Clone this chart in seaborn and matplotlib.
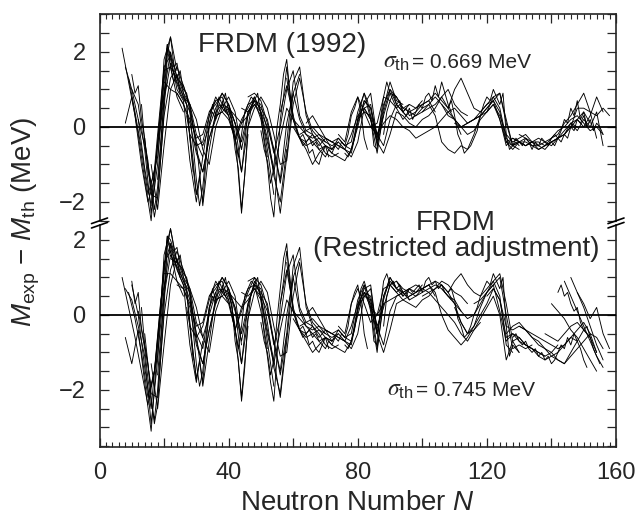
import numpy as np
import pandas as pd
import matplotlib
matplotlib.use("Agg")
import matplotlib.pyplot as plt
from matplotlib.lines import Line2D
from matplotlib.ticker import MultipleLocator, FuncFormatter
import seaborn as sns

# ---------------- data: M_exp - M_th (MeV) along isotopic chains ----------------
# coarse chains are sampled every 2nd N, fine chains at every N

# FRDM (1992)
start_1992_light = [7, 8, 8, 9, 10, 12, 14, 16, 18]
dev_1992_light = [
    [2.1, 1.2, 0.3, -1.0, -2.0, -1.4, 0.5, 1.2],
    [1.6, 1.0, 0.6, -0.6, -2.3, -1.0, 1.8, 2.4, 1.5],
    [0.1, 0.8, -0.2, -1.4, -2.5, -0.4, 1.5, 1.6, 0.8, 0.4],
    [1.3, 0.4, -0.6, -1.8, -1.2, 0.2, 2.2, 1.4, 0.9, 0.6, -1.2],
    [1.0, 0.2, -1.1, -2.1, -0.2, 1.6, 1.9, 1.0, 0.7, -0.9, -2.0, -0.8],
    [0.2, -0.5, -1.5, -0.8, 0.9, 2.0, 1.3, 0.8, 0.4, -0.4, -0.8, 0.3, 0.7],
    [-0.3, -1.8, -1.9, 0.3, 1.3, 1.6, 1.1, 0.5, -0.4, -2.1, -0.6, 0.4, 0.6, 0.3],
    [-1.0, -2.2, -0.5, 1.0, 1.4, 0.9, 0.6, 0.2, -0.6, -1.0, 0.0, 0.5, 0.8, 0.4, -0.6],
    [-1.4, 0.7, 1.7, 1.2, 0.8, 0.6, -0.6, -1.2, -0.3, 0.3, 0.4, 0.6, -0.2, -2.3, -0.2],
]
start_1992_mid = [20, 22, 24, 28, 34, 36, 40, 44, 46]
dev_1992_mid = [
    [1.2, 1.0, 0.9, 0.6, 0.2, -0.3, -0.2, 0.4, 0.7, 0.8, 0.3, -0.4, 0.1, 0.6, 0.7, 0.2, -0.8],
    [1.6, 1.3, 1.1, 0.6, -0.2, -0.5, 0.0, 0.5, 0.9, 0.6, 0.1, -0.6, 0.3, 0.8, 0.4, -0.6, -1.8],
    [0.9, 0.6, 0.1, -0.7, -1.2, -0.3, 0.2, 0.6, 0.5, 0.1, -1.2, 0.4, 0.7, 0.6, -0.1, -1.3, -2.0, -0.6],
    [-0.2, -0.5, -0.4, 0.3, 0.8, 0.5, 0.3, -0.3, 0.2, 0.5, 0.8, 0.4, -0.3, -1.1, -2.3, -0.8, 0.9, 1.4],
    [0.4, 0.6, 0.9, 0.6, 0.1, -0.4, 0.4, 0.7, 0.5, 0.2, -0.6, -1.5, -0.4, 1.2, 1.6, 0.3, -0.2],
    [0.3, 0.4, 0.2, -0.3, -1.2, 0.0, 0.5, 0.8, 0.5, -0.2, -1.0, -0.9, 0.6, 1.3, 0.4, -0.1, -0.3, -0.4],
    [0.5, 0.3, 0.1, 0.3, 0.6, 0.4, 0.0, -0.6, -1.4, 0.1, 0.9, 0.2, -0.2, -0.4, -0.3, -0.5, -0.6],
    [0.5, 0.4, 0.6, 0.3, -0.4, -1.2, -0.3, 0.5, 0.2, -0.3, -0.4, -0.2, -0.4, -0.7, -0.8, -0.7],
    [0.8, 0.9, 0.7, 0.1, -0.7, 0.0, 1.0, 1.5, 0.3, -0.1, -0.2, -0.5, -0.3, -0.6, -0.4],
]
start_1992_heavy = [56, 58, 60, 62, 64, 70, 74, 80, 82, 84, 92, 96, 100, 106, 110, 116,
                    120, 126, 130, 138, 142, 146]
dev_1992_heavy = [
    [0.4, 1.1, 0.3, -0.3, -0.5, -0.4, -0.6, -0.5, -0.7, -0.8, -0.9, -0.6, 0.2, 0.6, 0.9, -0.3],
    [1.3, 0.2, 0.0, -0.2, -0.3, -0.2, -0.4, -0.5, -0.4, -0.6, -0.7, 0.1, 0.7, 0.5, -0.5, 0.3],
    [0.0, -0.3, -0.6, -1.0, -0.7, -0.5, -0.6, -0.3, -0.5, -0.4, 0.4, 0.9, 0.2, -0.7, 0.4, 1.0, 0.8],
    [-0.2, -0.1, 0.0, -0.2, -0.3, -0.4, -0.5, -0.6, -0.8, -0.4, 0.5, 0.6, -0.4, 0.5, 1.2, 0.7, 0.6],
    [0.1, 0.3, 0.0, -0.3, -0.4, -0.3, -0.5, -0.6, 0.0, 0.7, 0.5, -0.2, 0.3, 0.9, 0.8, 0.5, 0.6],
    [-0.3, -0.4, -0.5, -0.6, -0.2, 0.3, 0.5, 0.2, -0.3, 0.6, 1.0, 0.6, 0.4, 0.6, 0.5, 0.7],
    [-0.2, -0.4, 0.4, 0.8, 0.4, 0.0, 0.1, 0.8, 0.7, 0.5, 0.2, 0.4, 0.5, 0.6, 0.7, 0.4],
    [0.2, 0.4, 0.3, -0.2, -0.5, 0.2, 0.6, 0.4, 0.2, 0.3, 0.4, 0.6, 0.8, 0.6, 0.3, 0.2, -0.2],
    [0.5, 0.2, -0.4, -0.7, -0.2, 0.4, 0.3, 0.1, 0.0, 0.2, 0.3, 0.5, 0.8, 1.0, 0.6, 0.4, 0.3],
    [0.0, -0.2, 0.1, 0.3, 0.2, 0.0, -0.1, -0.3, -0.2, -0.1, 0.0, 0.2, 0.4, 0.5, 0.3, 0.1, 0.2, 0.3],
    [0.8, 0.5, 0.4, 0.3, 0.5, 0.6, 0.3, -0.4, -0.6, -0.7, -0.5, -0.6, -0.2, 0.3, 0.5, 0.7, 0.4, -0.4, -0.5],
    [0.3, 0.4, 0.6, 0.7, 0.9, 0.7, 0.5, 1.0, 1.3, 0.9, 0.5, 0.4, 0.6, 0.8, 0.9, 0.2, -0.5, -0.6],
    [0.4, 0.5, 0.6, 0.8, 0.5, 0.2, 0.0, 0.1, 0.2, 0.4, 0.6, 0.7, 0.9, 0.1, -0.5, -0.4, -0.5, -0.4],
    [0.6, 0.4, 0.2, 0.0, -0.2, -0.1, 0.2, 0.4, 0.6, 0.2, -0.4, -0.6, -0.4, -0.5, -0.4, -0.6, -0.5],
    [0.1, 0.0, 0.1, 0.2, 0.3, 0.4, 0.8, 0.5, -0.3, -0.5, -0.4, -0.4, -0.5, -0.6, -0.5, -0.4, -0.3],
    [0.2, 0.3, 0.5, 0.7, 0.2, -0.5, -0.3, -0.4, -0.3, -0.5, -0.5, -0.6, -0.4, -0.3, -0.1, 0.1, 0.0],
    [0.4, 0.6, 0.3, -0.2, -0.4, -0.3, -0.2, -0.4, -0.5, -0.4, -0.5, -0.3, -0.2, 0.0, 0.2, 0.4, 0.1],
    [-0.4, -0.3, -0.4, -0.5, -0.4, -0.4, -0.5, -0.3, -0.2, 0.1, 0.3, 0.6, 0.9, 0.4, -0.3],
    [-0.2, -0.3, -0.4, -0.3, -0.4, -0.3, -0.1, 0.0, 0.2, 0.3, 0.1, -0.1, 0.0, -0.2],
    [-0.5, -0.4, -0.3, -0.2, 0.0, 0.5, 0.5, 0.4, 0.3, 0.5, 0.3],
    [-0.3, -0.2, 0.1, 0.2, 0.0, 0.3, 0.8, 0.4],
    [0.1, -0.1, 0.2, 0.0, 0.4, -0.5],
]
start_1992_fine = [10, 13, 19, 27, 38, 50, 62, 76, 88, 108, 128, 140]
dev_1992_fine = [
    [1.4, 0.9, 1.1, 0.2, -0.3, -1.2, -1.5, -2.2, -1.6, -0.5, 0.8, 2.1, 1.6, 1.2, 1.4, 0.9],
    [0.6, -0.4, -0.9, -1.7, -2.4, -1.9, -0.8, 0.4, 1.9, 2.4, 1.7, 1.3, 1.5, 0.9, 0.6, -0.3, -1.1, -1.8],
    [0.2, 1.4, 2.2, 1.9, 1.6, 1.7, 1.2, 1.0, 0.9, 0.4, -0.5, -1.4, -2.1, -1.6, -0.7, 0.1, 0.4, 0.2, 0.6, 0.5],
    [0.3, -0.2, -0.9, -1.8, -1.3, -2.0, -0.9, 0.0, 0.6, 0.3, 0.8, 0.6, 0.9, 0.4, 0.2, -0.6, -1.1, -2.2,
     -1.3, 0.0, 0.5, 0.7],
    [0.7, 0.4, 0.5, 0.1, -0.3, -0.8, -0.2, 0.4, 0.6, 0.8, 0.7, 0.9, 0.3, -0.4, -1.0, -1.9, -2.4, -1.2,
     0.2, 0.8, 1.6, 0.9, 0.3],
    [-0.1, -0.6, -0.9, -1.5, -1.1, 0.0, 0.6, 1.4, 1.8, 0.9, 0.2, -0.1, -0.3, -0.2, -0.4, -0.3, -0.5,
     -0.4, -0.6, -0.7, -0.5, -0.8],
    [-0.3, -0.5, -0.4, -0.7, -0.6, -0.9, -1.0, -0.7, -0.8, -0.6, -0.7, -0.5, -0.6, -0.4, -0.5, -0.2,
     0.3, 0.5, 0.8, 0.4, -0.3, -0.6],
    [-0.7, -0.8, -0.6, -0.3, 0.2, 0.6, 0.9, 0.7, 0.3, -0.5, -0.6, 0.2, 0.8, 1.2, 0.9, 0.7, 0.5, 0.6,
     0.4, 0.5, 0.3],
    [-0.2, 0.4, 0.7, 0.9, 0.6, 0.7, 0.4, 0.3, 0.5, 0.2, 0.4, 0.6, 0.5, 0.8, 0.9, 0.7, 1.1, 0.8, 1.2,
     0.9, 0.6, 0.4],
    [0.5, 0.7, 0.3, -0.2, -0.4, -0.7, -0.6, -0.5, -0.3, -0.1, 0.3, 0.6, 0.8, 0.7, 1.0, 0.8, 0.6, 0.9,
     -0.2, -0.6, -0.5, -0.4, -0.5],
    [-0.5, -0.3, -0.4, -0.5, -0.3, -0.4, -0.6, -0.4, -0.5, -0.3, -0.4, -0.5, -0.3, -0.2, -0.3, -0.1,
     0.2, 0.1, 0.5, 0.3, 0.7, 0.2, 0.4, 0.0],
    [-0.4, -0.5, -0.3, -0.4, -0.2, -0.3, 0.0, -0.1, 0.2, 0.1, 0.3, 0.0, 0.2, -0.1, 0.1, 0.0, -0.2],
]

# FRDM (restricted adjustment)
start_restr_light = [7, 8, 8, 9, 10, 12, 14, 16, 18]
dev_restr_light = [
    [1.0, 0.2, -0.6, -1.5, -2.4, -1.5, 0.4, 1.1],
    [0.7, 0.4, -0.3, -1.1, -2.9, -1.2, 1.6, 2.3, 1.4],
    [-0.6, -1.3, -0.4, -1.8, -3.1, -0.8, 1.4, 1.7, 0.9, 0.5],
    [0.6, -0.1, -1.0, -2.2, -1.5, 0.1, 2.1, 1.5, 1.0, 0.6, -1.2],
    [0.8, 0.0, -1.4, -2.5, -0.6, 1.3, 1.9, 1.2, 0.8, -0.8, -1.8, -0.7],
    [0.1, -0.8, -1.9, -1.1, 0.7, 1.9, 1.4, 0.9, 0.4, -0.5, -0.9, 0.2, 0.6],
    [-0.5, -2.1, -2.2, 0.0, 1.2, 1.7, 1.2, 0.6, -0.5, -1.9, -0.7, 0.5, 0.7, 0.3],
    [-1.3, -2.5, -0.8, 0.8, 1.5, 1.0, 0.7, 0.2, -0.6, -1.0, 0.1, 0.6, 0.9, 0.5, -0.8],
    [-1.6, 0.5, 1.6, 1.3, 0.9, 0.6, -0.7, -1.3, -0.4, 0.4, 0.5, 0.7, -0.3, -2.2, -0.3],
]
start_restr_mid = [20, 22, 24, 28, 34, 36, 40, 44, 46]
dev_restr_mid = [
    [1.1, 1.1, 0.9, 0.7, 0.3, -0.3, -0.2, 0.5, 0.8, 0.9, 0.4, -0.4, 0.2, 0.7, 0.8, 0.1, -0.9],
    [1.5, 1.4, 1.2, 0.7, -0.2, -0.6, 0.0, 0.6, 1.0, 0.7, 0.1, -0.7, 0.2, 0.9, 0.5, -0.7, -1.9],
    [0.8, 0.7, 0.2, -0.8, -1.3, -0.4, 0.3, 0.7, 0.6, 0.2, -1.3, 0.3, 0.8, 0.7, -0.2, -1.4, -2.1, -0.5],
    [-0.3, -0.6, -0.3, 0.4, 0.9, 0.6, 0.4, -0.4, 0.1, 0.6, 1.0, 0.5, -0.4, -1.2, -2.2, -0.7, 1.0, 1.5],
    [0.5, 0.7, 1.0, 0.7, 0.2, -0.5, 0.3, 0.8, 0.6, 0.3, -0.7, -1.6, -0.5, 1.3, 1.8, 0.2, -0.3],
    [0.4, 0.5, 0.3, -0.4, -1.3, -0.1, 0.6, 0.9, 0.6, -0.3, -1.1, -1.0, 0.5, 1.4, 0.3, -0.2, -0.4, -0.5],
    [0.6, 0.4, 0.2, 0.4, 0.7, 0.5, 0.1, -0.7, -1.5, 0.0, 1.0, 0.1, -0.3, -0.5, -0.4, -0.6, -0.7],
    [0.6, 0.5, 0.7, 0.4, -0.5, -1.3, -0.4, 0.4, 0.1, -0.4, -0.5, -0.3, -0.5, -0.8, -0.9, -0.8],
    [0.9, 1.0, 0.8, 0.2, -0.8, -0.1, 1.1, 1.6, 0.2, -0.2, -0.3, -0.6, -0.4, -0.7, -0.5],
]
start_restr_heavy = [56, 58, 60, 62, 64, 70, 74, 80, 82, 84, 92, 96, 100, 106, 110, 116,
                     120, 126, 130, 144, 146, 140, 148, 138]
dev_restr_heavy = [
    [0.3, 1.2, 0.2, -0.4, -0.6, -0.5, -0.7, -0.6, -0.8, -0.9, -1.0, -0.7, 0.2, 0.7, 0.8, -0.5],
    [1.4, 0.1, -0.1, -0.3, -0.4, -0.3, -0.5, -0.6, -0.5, -0.7, -0.8, 0.1, 0.8, 0.4, -0.9, 0.3],
    [-0.1, -0.4, -0.7, -1.0, -0.8, -0.6, -0.7, -0.4, -0.6, -0.5, 0.4, 0.8, 0.1, -1.0, 0.5, 1.0, 0.7],
    [-0.3, -0.2, -0.1, -0.3, -0.4, -0.5, -0.6, -0.7, -0.9, -0.5, 0.5, 0.7, -0.5, 0.4, 1.0, 0.7, 0.6],
    [0.0, 0.2, -0.1, -0.4, -0.5, -0.4, -0.6, -0.7, 0.0, 0.6, 0.5, -0.3, 0.2, 0.8, 0.9, 0.6, 0.7],
    [-0.4, -0.5, -0.6, -0.7, -0.3, 0.3, 0.6, 0.2, -0.5, 0.5, 0.9, 0.7, 0.5, 0.7, 0.6, 0.8],
    [-0.3, -0.5, 0.3, 0.7, 0.3, -0.2, 0.0, 0.7, 0.8, 0.6, 0.4, 0.5, 0.6, 0.7, 0.8, 0.5],
    [0.2, 0.5, 0.4, -0.3, -0.8, 0.1, 0.5, 0.6, 0.4, 0.5, 0.6, 0.7, 0.8, 0.7, 0.5, 0.4, 0.1],
    [0.6, 0.3, -0.5, -1.0, -0.4, 0.3, 0.4, 0.3, 0.2, 0.4, 0.5, 0.7, 0.9, 0.8, 0.6, 0.5, 0.3],
    [0.2, 0.0, 0.3, 0.4, 0.5, 0.6, 0.7, 0.8, 0.7, 0.6, 0.4, 0.2, 0.0, -0.2, -0.5, -0.7, -0.4, -0.2],
    [0.9, 0.7, 0.6, 0.5, 0.7, 0.8, 0.6, 0.0, -0.4, -0.6, -0.8, -0.6, -0.3, 0.2, 0.6, 0.9, 0.5, -0.8, -1.0],
    [0.5, 0.6, 0.7, 0.8, 0.9, 0.8, 0.6, 0.9, 1.1, 0.8, 0.6, 0.5, 0.7, 0.9, 1.1, 0.3, -0.7, -1.0],
    [0.5, 0.6, 0.7, 0.8, 0.6, 0.3, 0.1, -0.1, 0.0, 0.3, 0.6, 0.8, 1.0, 0.0, -0.9, -0.8, -0.9, -0.8],
    [0.7, 0.5, 0.3, -0.2, -0.5, -0.4, -0.1, 0.2, 0.5, 0.0, -1.2, -0.7, -0.6, -0.8, -0.9, -1.0, -1.1],
    [0.2, -0.2, -0.5, -0.3, 0.0, 0.3, 0.7, 0.4, -0.6, -0.5, -0.6, -0.8, -0.9, -1.0, -1.1, -1.0, -0.8],
    [0.3, 0.4, 0.6, 0.8, 0.1, -0.7, -0.5, -0.7, -0.8, -0.9, -1.1, -1.2, -1.1, -1.0, -0.8, -0.6, -0.7],
    [0.5, 0.7, 0.4, -0.3, -0.4, -0.3, -0.4, -0.6, -0.8, -0.9, -1.0, -1.2, -1.3, -1.0, -0.7, -0.4, -0.6],
    [-0.5, -0.3, -0.2, -0.4, -0.5, -0.6, -0.7, -0.8, -0.9, -0.8, -0.6, -0.4, -0.2, -0.5, -1.0],
    [-0.3, -0.4, -0.6, -0.7, -0.9, -1.1, -1.2, -1.3, -1.1, -0.9, -0.7, -0.5, -0.6, -0.9],
    [0.9, 0.5, 0.1, -0.3, -0.7, -1.1, -1.4],
    [1.0, 0.6, 0.2, -0.3, -0.8, -1.2],
    [0.3, 0.1, -0.1, -0.4, -0.6, -0.9, -1.2, -1.5],
    [0.6, 0.3, -0.1, 0.2, -0.5, -0.9],
    [-0.5, -0.6, -0.7, -0.5, -0.3, -0.2, -0.4, -0.6, -1.0],
]
start_restr_fine = [10, 13, 19, 27, 38, 50, 62, 76, 88, 108, 128, 142]
dev_restr_fine = [
    [0.9, 0.3, 0.6, -0.4, -0.9, -1.7, -2.3, -2.8, -2.0, -0.8, 0.6, 2.0, 1.7, 1.3, 1.5, 1.0],
    [0.2, -0.8, -1.3, -2.2, -2.9, -2.4, -1.1, 0.2, 1.8, 2.3, 1.8, 1.4, 1.6, 1.0, 0.7, -0.2, -1.0, -1.7],
    [0.0, 1.2, 2.1, 2.0, 1.7, 1.8, 1.3, 1.1, 1.0, 0.5, -0.4, -1.3, -1.9, -1.5, -0.6, 0.2, 0.5, 0.3, 0.7, 0.6],
    [0.2, -0.3, -1.0, -1.7, -1.2, -1.8, -0.8, 0.1, 0.7, 0.4, 0.9, 0.7, 1.0, 0.5, 0.3, -0.7, -1.2, -2.3,
     -1.4, -0.1, 0.6, 0.8],
    [0.8, 0.5, 0.6, 0.2, -0.4, -0.9, -0.3, 0.5, 0.7, 0.9, 0.8, 1.0, 0.4, -0.5, -1.1, -1.8, -2.3, -1.1,
     0.3, 0.9, 1.7, 1.0, 0.2],
    [-0.2, -0.7, -1.0, -1.6, -1.2, -0.1, 0.7, 1.5, 1.9, 0.8, 0.1, -0.2, -0.4, -0.3, -0.5, -0.4, -0.6,
     -0.5, -0.7, -0.8, -0.6, -0.9],
    [-0.4, -0.6, -0.5, -0.8, -0.7, -0.9, -1.0, -0.8, -0.9, -0.7, -0.8, -0.6, -0.7, -0.5, -0.6, -0.3,
     0.3, 0.6, 0.8, 0.3, -0.5, -0.9],
    [-0.8, -0.9, -0.7, -0.4, 0.2, 0.7, 0.9, 0.6, 0.2, -0.7, -0.8, 0.2, 0.9, 1.1, 0.8, 0.7, 0.6, 0.7,
     0.5, 0.6, 0.4],
    [-0.3, 0.5, 0.8, 0.9, 0.7, 0.8, 0.6, 0.5, 0.7, 0.6, 0.7, 0.8, 0.6, 0.9, 1.0, 0.8, 0.9, 0.7, 0.8,
     0.6, 0.5, 0.4],
    [0.6, 0.7, 0.4, -0.1, -0.3, -0.6, -0.5, -0.3, 0.0, 0.2, 0.5, 0.7, 0.9, 0.8, 1.1, 0.9, 0.7, 1.0,
     -0.3, -1.1, -0.8, -0.9, -1.0],
    [-0.6, -0.5, -0.7, -0.8, -0.7, -0.9, -1.0, -0.9, -1.1, -1.0, -1.2, -1.1, -1.3, -1.2, -1.0, -0.8,
     -0.9, -0.6, -0.8, -0.5, -0.7, -0.9, -1.2, -1.4],
    [0.6, 0.8, 0.5, 0.6, 0.3, 0.1, 0.2, -0.2, -0.4, -0.3, -0.6, -0.9, -1.1, -1.3],
]

x_tick_labels = {0: "0", 40: "40", 80: "80", 120: "120", 160: "160"}
y_tick_labels = {2.0: "2", 0.0: "0", -2.0: "\u22122"}
title_1992 = "FRDM (1992)"
title_restr = "FRDM\n(Restricted adjustment)"
sigma_sym = r"$\sigma_{\mathregular{th}}$"
sigma_1992 = "= 0.669 MeV"
sigma_restr = "= 0.745 MeV"


def chains_to_frame(starts, devs, tag, step):
    rows = []
    for k, (n0, vals) in enumerate(zip(starts, devs)):
        for i, v in enumerate(vals):
            rows.append({"chain": f"{tag}{k}", "N": n0 + step * i, "dM": v})
    return pd.DataFrame(rows)


df_1992 = pd.concat([
    chains_to_frame(start_1992_light, dev_1992_light, "l", 2),
    chains_to_frame(start_1992_mid, dev_1992_mid, "m", 2),
    chains_to_frame(start_1992_heavy, dev_1992_heavy, "h", 2),
    chains_to_frame(start_1992_fine, dev_1992_fine, "f", 1),
], ignore_index=True)
df_restr = pd.concat([
    chains_to_frame(start_restr_light, dev_restr_light, "l", 2),
    chains_to_frame(start_restr_mid, dev_restr_mid, "m", 2),
    chains_to_frame(start_restr_heavy, dev_restr_heavy, "h", 2),
    chains_to_frame(start_restr_fine, dev_restr_fine, "f", 1),
], ignore_index=True)

# ---------------- style ----------------
sns.set_style("ticks")
plt.rcParams["font.family"] = ["Liberation Sans", "DejaVu Sans"]
plt.rcParams["mathtext.fontset"] = "custom"
plt.rcParams["mathtext.rm"] = "Liberation Sans"
plt.rcParams["mathtext.it"] = "Liberation Sans:italic"
plt.rcParams["mathtext.bf"] = "Liberation Sans:bold"

W, H = 644, 521
fig = plt.figure(figsize=(W / 100, H / 100), dpi=100)


def fx(px):
    return px / W


def fy(py):
    return 1 - py / H


left, right, top, bottom, brk = 99.5, 616, 14, 447, 223
ax_u = fig.add_axes([fx(left), fy(brk), fx(right) - fx(left), fy(top) - fy(brk)])
ax_l = fig.add_axes([fx(left), fy(bottom), fx(right) - fx(left), fy(brk) - fy(bottom)])

line_kw = dict(x="N", y="dM", units="chain", estimator=None, color="black",
               linewidth=0.65, legend=False)
sns.lineplot(data=df_1992, ax=ax_u, **line_kw)
sns.lineplot(data=df_restr, ax=ax_l, **line_kw)

ax_u.set_ylim(-2.56, 3.01)
ax_l.set_ylim(-3.52, 2.45)
for ax in (ax_u, ax_l):
    ax.set_xlim(0, 160)
    ax.axhline(0, color="black", linewidth=1.3, zorder=3)
    ax.set_xlabel("")
    ax.set_ylabel("")
    ax.yaxis.set_major_locator(MultipleLocator(0.5))
    ax.yaxis.set_major_formatter(FuncFormatter(lambda v, p: y_tick_labels.get(round(v, 2), "")))
    ax.xaxis.set_major_locator(MultipleLocator(20))
    ax.xaxis.set_minor_locator(MultipleLocator(2))
    ax.xaxis.set_major_formatter(FuncFormatter(lambda v, p: x_tick_labels.get(int(round(v)), "")))
    ax.tick_params(axis="y", which="both", direction="in", left=True, right=True,
                   length=6.5, width=0.9, labelsize=17, pad=10)
    for s in ax.spines.values():
        s.set_linewidth(1.2)
        s.set_visible(True)

ax_u.tick_params(axis="x", which="both", direction="in", top=True, bottom=False,
                 labelbottom=False, labeltop=False)
ax_u.tick_params(axis="x", which="major", length=6.5, width=0.9)
ax_u.tick_params(axis="x", which="minor", length=3.5, width=0.8)
ax_u.spines["bottom"].set_visible(False)
ax_u.spines["left"].set_bounds(-2.5, 3.01)
ax_u.spines["right"].set_bounds(-2.5, 3.01)

ax_l.tick_params(axis="x", which="both", direction="in", top=False, bottom=True,
                 labelsize=17, pad=11)
ax_l.tick_params(axis="x", which="major", length=6.5, width=0.9)
ax_l.tick_params(axis="x", which="minor", length=3.5, width=0.8)
ax_l.spines["top"].set_visible(False)
ax_l.spines["left"].set_bounds(-3.52, 2.40)
ax_l.spines["right"].set_bounds(-3.52, 2.40)

# break marks
for xc in (left, right):
    for dy in (-2.2, 2.2):
        fig.add_artist(Line2D([fx(xc - 8), fx(xc + 8)], [fy(brk + dy + 2.8), fy(brk + dy - 2.8)],
                              transform=fig.transFigure, color="black", linewidth=1.2))

# texts
ax_l.set_xlabel("Neutron Number $N$", fontsize=20, labelpad=4)
fig.text(fx(26), fy(222), r"$M_{\rm exp}$ $-$ $M_{\rm th}$ (MeV)", rotation=90,
         ha="center", va="center", fontsize=20)
fig.text(fx(282), fy(45), title_1992, ha="center", va="center", fontsize=20)
fig.text(fx(383), fy(62), sigma_sym, ha="left", va="center", fontsize=17, math_fontfamily="stix")
fig.text(fx(412), fy(62), sigma_1992, ha="left", va="center", fontsize=15)
fig.text(fx(456), fy(236), title_restr, ha="center", va="center", fontsize=20,
         linespacing=1.0)
fig.text(fx(387), fy(390), sigma_sym, ha="left", va="center", fontsize=17, math_fontfamily="stix")
fig.text(fx(416), fy(390), sigma_restr, ha="left", va="center", fontsize=15)

fig.savefig("out.png", dpi=100)
